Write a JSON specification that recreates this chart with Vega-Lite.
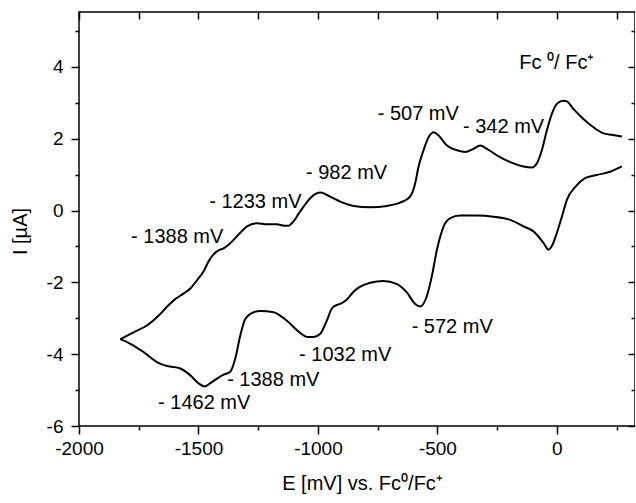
{
  "$schema": "https://vega.github.io/schema/vega-lite/v6.json",
  "autosize": {"type": "none"},
  "padding": {"left": 79, "top": 12, "right": 0, "bottom": 77},
  "width": 556,
  "height": 414,
  "background": "white",
  "config": {
    "view": {"stroke": "black", "strokeWidth": 1.5},
    "font": "Liberation Sans",
    "axis": {"domain": false, "grid": false, "tickColor": "black", "tickWidth": 1.5, "labelColor": "black", "titleColor": "black", "labelFont": "Liberation Sans", "titleFont": "Liberation Sans", "labelFontSize": 19, "titleFontSize": 20, "titleFontWeight": "normal"}
  },
  "resolve": {"axis": {"x": "independent", "y": "independent"}},
  "layer": [
    {
      "data": {"values": [
        {"branch": "a", "E": -1827, "I": -3.58},
        {"branch": "a", "E": -1772, "I": -3.39},
        {"branch": "a", "E": -1716, "I": -3.2},
        {"branch": "a", "E": -1660, "I": -2.88},
        {"branch": "a", "E": -1632, "I": -2.68},
        {"branch": "a", "E": -1600, "I": -2.48},
        {"branch": "a", "E": -1560, "I": -2.3},
        {"branch": "a", "E": -1534, "I": -2.17},
        {"branch": "a", "E": -1505, "I": -1.93},
        {"branch": "a", "E": -1479, "I": -1.7},
        {"branch": "a", "E": -1458, "I": -1.42},
        {"branch": "a", "E": -1437, "I": -1.22},
        {"branch": "a", "E": -1416, "I": -1.11},
        {"branch": "a", "E": -1395, "I": -1.05},
        {"branch": "a", "E": -1374, "I": -0.95},
        {"branch": "a", "E": -1325, "I": -0.62},
        {"branch": "a", "E": -1297, "I": -0.44},
        {"branch": "a", "E": -1255, "I": -0.35},
        {"branch": "a", "E": -1213, "I": -0.38},
        {"branch": "a", "E": -1172, "I": -0.38},
        {"branch": "a", "E": -1140, "I": -0.42},
        {"branch": "a", "E": -1123, "I": -0.42},
        {"branch": "a", "E": -1102, "I": -0.3},
        {"branch": "a", "E": -1080, "I": -0.08},
        {"branch": "a", "E": -1060, "I": 0.11},
        {"branch": "a", "E": -1025, "I": 0.39},
        {"branch": "a", "E": -990, "I": 0.5},
        {"branch": "a", "E": -949, "I": 0.39},
        {"branch": "a", "E": -907, "I": 0.25},
        {"branch": "a", "E": -851, "I": 0.13},
        {"branch": "a", "E": -781, "I": 0.09},
        {"branch": "a", "E": -711, "I": 0.13},
        {"branch": "a", "E": -656, "I": 0.22},
        {"branch": "a", "E": -614, "I": 0.39},
        {"branch": "a", "E": -593, "I": 0.76},
        {"branch": "a", "E": -579, "I": 1.22},
        {"branch": "a", "E": -558, "I": 1.68},
        {"branch": "a", "E": -537, "I": 2.04},
        {"branch": "a", "E": -516, "I": 2.18},
        {"branch": "a", "E": -495, "I": 2.09},
        {"branch": "a", "E": -460, "I": 1.81},
        {"branch": "a", "E": -418, "I": 1.68},
        {"branch": "a", "E": -384, "I": 1.63},
        {"branch": "a", "E": -349, "I": 1.72},
        {"branch": "a", "E": -321, "I": 1.81},
        {"branch": "a", "E": -293, "I": 1.72},
        {"branch": "a", "E": -251, "I": 1.54},
        {"branch": "a", "E": -195, "I": 1.35},
        {"branch": "a", "E": -140, "I": 1.23},
        {"branch": "a", "E": -105, "I": 1.2},
        {"branch": "a", "E": -84, "I": 1.31},
        {"branch": "a", "E": -63, "I": 1.68},
        {"branch": "a", "E": -42, "I": 2.23},
        {"branch": "a", "E": -21, "I": 2.69},
        {"branch": "a", "E": 0, "I": 2.97},
        {"branch": "a", "E": 25, "I": 3.06},
        {"branch": "a", "E": 42, "I": 3.04},
        {"branch": "a", "E": 69, "I": 2.83},
        {"branch": "a", "E": 111, "I": 2.55},
        {"branch": "a", "E": 153, "I": 2.32},
        {"branch": "a", "E": 195, "I": 2.15},
        {"branch": "a", "E": 230, "I": 2.11},
        {"branch": "a", "E": 272, "I": 2.06},
        {"branch": "b", "E": -1827, "I": -3.58},
        {"branch": "b", "E": -1785, "I": -3.71},
        {"branch": "b", "E": -1730, "I": -3.94},
        {"branch": "b", "E": -1674, "I": -4.22},
        {"branch": "b", "E": -1632, "I": -4.33},
        {"branch": "b", "E": -1600, "I": -4.36},
        {"branch": "b", "E": -1576, "I": -4.4},
        {"branch": "b", "E": -1534, "I": -4.59},
        {"branch": "b", "E": -1500, "I": -4.81},
        {"branch": "b", "E": -1474, "I": -4.9},
        {"branch": "b", "E": -1451, "I": -4.81},
        {"branch": "b", "E": -1423, "I": -4.68},
        {"branch": "b", "E": -1395, "I": -4.57},
        {"branch": "b", "E": -1367, "I": -4.49},
        {"branch": "b", "E": -1346, "I": -4.12},
        {"branch": "b", "E": -1325, "I": -3.48},
        {"branch": "b", "E": -1304, "I": -3.02},
        {"branch": "b", "E": -1269, "I": -2.83},
        {"branch": "b", "E": -1241, "I": -2.8},
        {"branch": "b", "E": -1186, "I": -2.83},
        {"branch": "b", "E": -1130, "I": -3.07},
        {"branch": "b", "E": -1074, "I": -3.41},
        {"branch": "b", "E": -1046, "I": -3.52},
        {"branch": "b", "E": -1018, "I": -3.52},
        {"branch": "b", "E": -990, "I": -3.43},
        {"branch": "b", "E": -962, "I": -3.05},
        {"branch": "b", "E": -941, "I": -2.72},
        {"branch": "b", "E": -921, "I": -2.63},
        {"branch": "b", "E": -900, "I": -2.58},
        {"branch": "b", "E": -879, "I": -2.48},
        {"branch": "b", "E": -851, "I": -2.26},
        {"branch": "b", "E": -781, "I": -2.01},
        {"branch": "b", "E": -726, "I": -1.96},
        {"branch": "b", "E": -669, "I": -2.05},
        {"branch": "b", "E": -628, "I": -2.28},
        {"branch": "b", "E": -593, "I": -2.6},
        {"branch": "b", "E": -572, "I": -2.67},
        {"branch": "b", "E": -544, "I": -2.38},
        {"branch": "b", "E": -523, "I": -1.82},
        {"branch": "b", "E": -502, "I": -1.09},
        {"branch": "b", "E": -488, "I": -0.72},
        {"branch": "b", "E": -474, "I": -0.44},
        {"branch": "b", "E": -446, "I": -0.21},
        {"branch": "b", "E": -405, "I": -0.14},
        {"branch": "b", "E": -335, "I": -0.14},
        {"branch": "b", "E": -265, "I": -0.17},
        {"branch": "b", "E": -195, "I": -0.26},
        {"branch": "b", "E": -140, "I": -0.44},
        {"branch": "b", "E": -98, "I": -0.58},
        {"branch": "b", "E": -56, "I": -0.9},
        {"branch": "b", "E": -35, "I": -1.09},
        {"branch": "b", "E": -21, "I": -0.99},
        {"branch": "b", "E": 0, "I": -0.62},
        {"branch": "b", "E": 21, "I": -0.17},
        {"branch": "b", "E": 42, "I": 0.3},
        {"branch": "b", "E": 77, "I": 0.66},
        {"branch": "b", "E": 118, "I": 0.9},
        {"branch": "b", "E": 167, "I": 0.99},
        {"branch": "b", "E": 223, "I": 1.08},
        {"branch": "b", "E": 272, "I": 1.23}
      ]},
      "mark": {"type": "line", "color": "black", "strokeWidth": 2, "interpolate": "monotone", "clip": true},
      "encoding": {
        "x": {"field": "E", "type": "quantitative",
          "scale": {"domain": [-2000, 327], "nice": false, "zero": false},
          "axis": {"orient": "bottom", "title": "E [mV] vs. Fc\u2070/Fc\u207a",
            "values": [-2000, -1750, -1500, -1250, -1000, -750, -500, -250, 0, 250],
            "labelExpr": "datum.value % 500 === 0 ? '' + datum.value : ''",
            "tickSize": {"condition": {"test": "datum.value % 500 !== 0", "value": 4}, "value": 8},
            "labelPadding": 5, "titlePadding": 15, "titleX": 283, "labelFlush": false}},
        "y": {"field": "I", "type": "quantitative",
          "scale": {"domain": [-6, 5.53], "nice": false, "zero": false},
          "axis": {"orient": "left", "title": "I [\u00b5A]",
            "values": [-6, -5, -4, -3, -2, -1, 0, 1, 2, 3, 4, 5],
            "labelExpr": "datum.value % 2 === 0 ? '' + datum.value : ''",
            "tickSize": {"condition": {"test": "datum.value % 2 !== 0", "value": 4}, "value": 8},
            "labelPadding": 8, "titlePadding": 16, "titleY": 219}},
        "detail": {"field": "branch", "type": "nominal"}
      }
    },
    {
      "data": {"values": [
        {"label": "- 1388 mV", "E": -1589, "I": -0.73},
        {"label": "- 1233 mV", "E": -1262, "I": 0.25},
        {"label": "- 982 mV", "E": -880, "I": 1.05},
        {"label": "- 507 mV", "E": -580, "I": 2.69},
        {"label": "- 342 mV", "E": -223, "I": 2.34},
        {"label": "Fc \u2070/ Fc\u207a", "E": 0, "I": 4.12},
        {"label": "- 572 mV", "E": -438, "I": -3.25},
        {"label": "- 1032 mV", "E": -886, "I": -4.03},
        {"label": "- 1388 mV", "E": -1187, "I": -4.72},
        {"label": "- 1462 mV", "E": -1476, "I": -5.37}
      ]},
      "mark": {"type": "text", "font": "Liberation Sans", "fontSize": 20, "color": "black", "align": "center", "baseline": "middle"},
      "encoding": {
        "x": {"field": "E", "type": "quantitative",
          "scale": {"domain": [-2000, 327], "nice": false, "zero": false},
          "axis": {"orient": "top", "title": null, "labels": false,
            "values": [-2000, -1750, -1500, -1250, -1000, -750, -500, -250, 0, 250],
            "tickSize": -7}},
        "y": {"field": "I", "type": "quantitative",
          "scale": {"domain": [-6, 5.53], "nice": false, "zero": false},
          "axis": {"orient": "right", "title": null, "labels": false,
            "values": [-6, -5, -4, -3, -2, -1, 0, 1, 2, 3, 4, 5],
            "tickSize": {"condition": {"test": "datum.value % 2 !== 0", "value": -4}, "value": -7}}},
        "text": {"field": "label", "type": "nominal"}
      }
    }
  ]
}
